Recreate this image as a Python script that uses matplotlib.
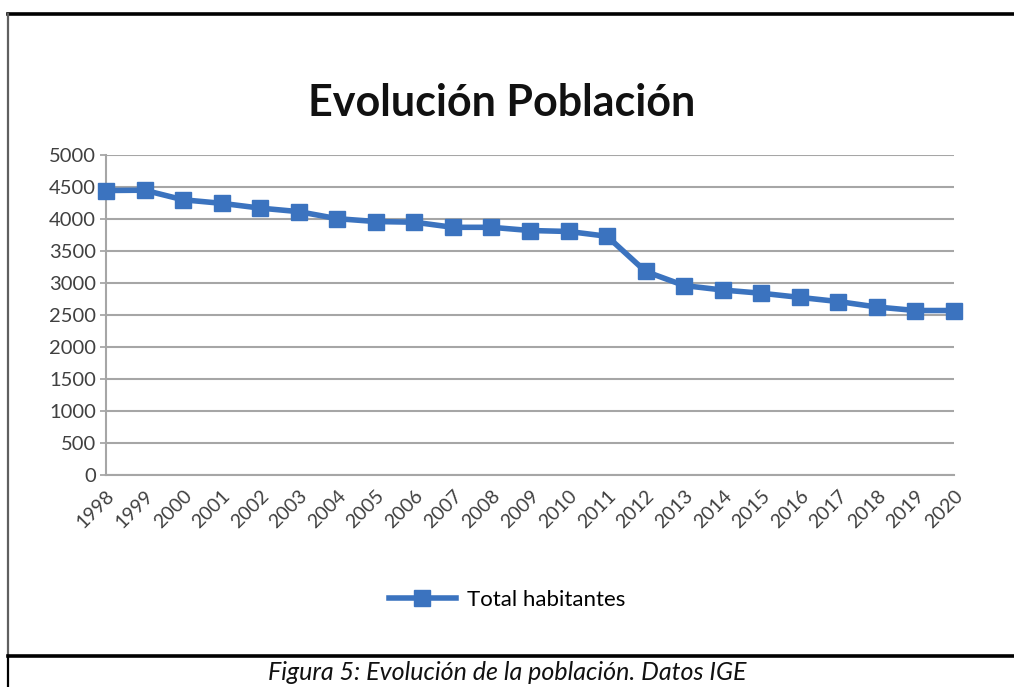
import matplotlib.pyplot as plt
from matplotlib.lines import Line2D

years = list(range(1998, 2021))
habitantes = [4445, 4450, 4300, 4245, 4170, 4115, 4005, 3960, 3950, 3870, 3870, 3820,
              3805, 3730, 3180, 2960, 2890, 2840, 2775, 2710, 2625, 2570, 2570]
y_ticks = list(range(0, 5001, 500))

plt.rcParams['font.family'] = ['Lato', 'DejaVu Sans']

fig = plt.figure(figsize=(10.14, 6.87), dpi=100)
ax = fig.add_axes([0.1045, 0.3086, 0.8363, 0.4658])

ax.plot(years, habitantes, color='#3b73bf', linewidth=4.0, marker='s',
        markersize=11, label='Total habitantes', clip_on=False, zorder=3)

ax.set_xlim(years[0], years[-1])
ax.set_ylim(0, 5000)
ax.set_yticks(y_ticks)
ax.set_xticks(years)
ax.set_xticklabels([str(y) for y in years], rotation=45, ha='right',
                   rotation_mode='anchor', fontsize=14, color='#404040')
ax.tick_params(axis='y', labelsize=14.5, colors='#404040', length=4, width=1.2, pad=3)
ax.tick_params(axis='y', color='#a0a0a0')
ax.tick_params(axis='x', length=0, pad=9)
ax.grid(axis='y', color='#a6a6a6', linewidth=1.5)
ax.set_axisbelow(True)
for s in ['top', 'right']:
    ax.spines[s].set_visible(False)
for s in ['left', 'bottom']:
    ax.spines[s].set_color('#a6a6a6')
    ax.spines[s].set_linewidth(1.5)

fig.text(0.495, 0.85, 'Evolución Población', ha='center', va='center',
         fontsize=31, fontweight='bold', color='#111111')

fig.legend(loc='center', bbox_to_anchor=(0.5, 0.127), frameon=False,
           fontsize=16, handlelength=3.0, handletextpad=0.5, markerscale=1.0)

# marco del documento
fig.add_artist(Line2D([8 / 1014, 1], [1 - 14 / 687] * 2, color='black', lw=2.6))
fig.add_artist(Line2D([8 / 1014] * 2, [1 - 14 / 687, 1 - 656 / 687], color='#606060', lw=1.6))
fig.add_artist(Line2D([8 / 1014] * 2, [1 - 656 / 687, 0], color='black', lw=1.6))
fig.add_artist(Line2D([8 / 1014, 1], [1 - 656 / 687] * 2, color='black', lw=2.6))

fig.text(0.5, 1 - 672 / 687, 'Figura 5: Evolución de la población. Datos IGE', ha='center',
         va='center', fontsize=18, style='italic', color='#111111')

fig.savefig('out.png', dpi=100)
